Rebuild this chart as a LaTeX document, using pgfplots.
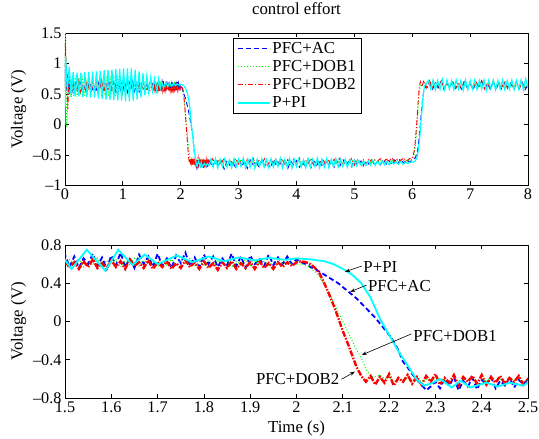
\documentclass[border=0pt]{standalone}
\usepackage{fontspec}
\setmainfont{Liberation Serif}
\usepackage{pgfplots}
\usepackage{pgfplotstable}
\pgfplotsset{compat=1.18}
\usetikzlibrary{arrows.meta}

\definecolor{mblue}{rgb}{0,0,1}
\definecolor{mgreen}{rgb}{0,1,0}
\definecolor{mred}{rgb}{1,0,0}
\definecolor{mcyan}{rgb}{0,1,1}
\newcommand\fsz{\fontsize{16.8bp}{19bp}\selectfont}
\newcommand\fszt{\fontsize{16.2bp}{19bp}\selectfont}

\pgfplotsset{
  mstyle/.style={
    scale only axis, width=463bp,
    axis line style={line width=0.9bp},
    tick align=inside, xtick pos=both, ytick pos=both,
    major tick length=4.5bp,
    tick style={black, line width=0.8bp},
    ticklabel style={font=\fszt},
    label style={font=\fsz},
    ylabel={Voltage (V)},
    ylabel style={at={(axis description cs:-0.1,0.5)}, anchor=center},
  },
  legend image code/.code={\draw[#1] (0bp,0bp) -- (32bp,0bp);},
}

% PFC+AC
\pgfplotstableread[row sep=\\]{
x y\\
0.00 0.70\\ 0.01 1.05\\ 0.03 0.55\\ 0.05 0.85\\ 0.07 0.50\\
0.09 0.70\\ 0.12 0.53\\ 0.15 0.67\\ 0.18 0.56\\ 0.21 0.72\\ 0.24 0.58\\ 0.27 0.69\\ 0.30 0.52\\ 0.33 0.65\\ 0.36 0.55\\
0.39 0.71\\ 0.42 0.57\\ 0.45 0.68\\ 0.48 0.54\\ 0.51 0.66\\ 0.54 0.53\\ 0.57 0.70\\ 0.60 0.59\\ 0.63 0.72\\ 0.66 0.56\\
0.69 0.67\\ 0.72 0.54\\ 0.75 0.69\\ 0.78 0.58\\ 0.81 0.71\\ 0.84 0.55\\ 0.87 0.65\\ 0.90 0.52\\ 0.93 0.68\\ 0.96 0.57\\
0.99 0.70\\ 1.02 0.56\\ 1.05 0.66\\ 1.08 0.53\\ 1.11 0.69\\ 1.14 0.59\\ 1.17 0.71\\ 1.20 0.55\\ 1.23 0.67\\ 1.26 0.54\\
1.29 0.68\\ 1.32 0.58\\ 1.35 0.70\\ 1.38 0.56\\ 1.41 0.65\\ 1.44 0.57\\ 1.47 0.69\\
1.50 0.70\\ 1.51 0.57\\ 1.52 0.68\\ 1.53 0.56\\ 1.54 0.66\\ 1.55 0.60\\ 1.56 0.71\\ 1.57 0.58\\ 1.58 0.67\\ 1.59 0.55\\
1.60 0.69\\ 1.61 0.59\\ 1.62 0.72\\ 1.63 0.57\\ 1.64 0.66\\ 1.65 0.56\\ 1.66 0.70\\ 1.67 0.60\\ 1.68 0.68\\ 1.69 0.57\\
1.70 0.71\\ 1.71 0.58\\ 1.72 0.66\\ 1.73 0.56\\ 1.74 0.69\\ 1.75 0.61\\ 1.76 0.72\\ 1.77 0.58\\ 1.78 0.67\\ 1.79 0.57\\
1.80 0.70\\ 1.81 0.60\\ 1.82 0.68\\ 1.83 0.57\\ 1.84 0.66\\ 1.85 0.59\\ 1.86 0.71\\ 1.87 0.58\\ 1.88 0.68\\ 1.89 0.56\\
1.90 0.69\\ 1.91 0.60\\ 1.92 0.66\\ 1.93 0.58\\ 1.94 0.70\\ 1.95 0.59\\ 1.96 0.67\\ 1.97 0.60\\ 1.98 0.68\\ 1.99 0.60\\
2.00 0.65\\ 2.01 0.62\\ 2.02 0.60\\ 2.03 0.57\\ 2.04 0.55\\ 2.05 0.52\\ 2.06 0.49\\ 2.07 0.46\\ 2.08 0.43\\ 2.09 0.40\\
2.10 0.36\\ 2.11 0.32\\ 2.12 0.28\\ 2.13 0.24\\ 2.14 0.19\\ 2.15 0.14\\ 2.16 0.09\\ 2.17 0.04\\ 2.18 -0.02\\ 2.19 -0.08\\
2.20 -0.14\\ 2.21 -0.21\\ 2.22 -0.30\\ 2.23 -0.42\\ 2.24 -0.48\\ 2.25 -0.55\\ 2.26 -0.61\\ 2.27 -0.66\\ 2.28 -0.72\\ 2.29 -0.68\\
2.30 -0.63\\ 2.31 -0.70\\ 2.32 -0.60\\ 2.33 -0.67\\ 2.34 -0.58\\ 2.35 -0.72\\ 2.36 -0.62\\ 2.37 -0.68\\ 2.38 -0.59\\ 2.39 -0.71\\
2.40 -0.61\\ 2.41 -0.66\\ 2.42 -0.58\\ 2.43 -0.70\\ 2.44 -0.62\\ 2.45 -0.67\\ 2.46 -0.59\\ 2.47 -0.69\\ 2.48 -0.61\\ 2.49 -0.66\\ 2.50 -0.60\\
2.55 -0.70\\ 2.60 -0.58\\ 2.65 -0.68\\ 2.70 -0.60\\ 2.75 -0.73\\ 2.80 -0.59\\ 2.85 -0.67\\ 2.90 -0.62\\ 2.95 -0.71\\ 3.00 -0.57\\
3.05 -0.69\\ 3.10 -0.61\\ 3.15 -0.72\\ 3.20 -0.58\\ 3.25 -0.66\\ 3.30 -0.60\\ 3.35 -0.70\\ 3.40 -0.59\\ 3.45 -0.68\\ 3.50 -0.62\\
3.55 -0.71\\ 3.60 -0.57\\ 3.65 -0.67\\ 3.70 -0.61\\ 3.75 -0.69\\ 3.80 -0.58\\ 3.85 -0.72\\ 3.90 -0.60\\ 3.95 -0.66\\ 4.00 -0.59\\
4.05 -0.70\\ 4.10 -0.62\\ 4.15 -0.68\\ 4.20 -0.57\\ 4.25 -0.71\\ 4.30 -0.60\\ 4.35 -0.67\\ 4.40 -0.58\\ 4.45 -0.69\\ 4.50 -0.61\\
4.55 -0.66\\ 4.60 -0.59\\ 4.65 -0.70\\ 4.70 -0.60\\ 4.75 -0.68\\ 4.80 -0.57\\ 4.85 -0.67\\ 4.90 -0.61\\ 4.95 -0.69\\ 5.00 -0.58\\
5.05 -0.66\\ 5.10 -0.60\\ 5.15 -0.68\\ 5.20 -0.59\\ 5.25 -0.65\\ 5.30 -0.58\\ 5.35 -0.67\\ 5.40 -0.60\\ 5.45 -0.66\\ 5.50 -0.57\\
5.55 -0.65\\ 5.60 -0.59\\ 5.65 -0.66\\ 5.70 -0.58\\ 5.75 -0.64\\ 5.80 -0.57\\ 5.85 -0.63\\ 5.90 -0.58\\ 5.95 -0.62\\
6.00 -0.58\\ 6.05 -0.55\\ 6.08 -0.48\\ 6.10 -0.38\\ 6.12 -0.20\\ 6.14 0.00\\ 6.16 0.22\\ 6.18 0.42\\ 6.20 0.56\\ 6.22 0.62\\ 6.25 0.60\\
6.30 0.68\\ 6.35 0.58\\ 6.40 0.66\\ 6.45 0.60\\ 6.50 0.70\\ 6.55 0.57\\ 6.60 0.67\\ 6.65 0.61\\ 6.70 0.69\\ 6.75 0.59\\
6.80 0.66\\ 6.85 0.58\\ 6.90 0.70\\ 6.95 0.60\\ 7.00 0.67\\ 7.05 0.57\\ 7.10 0.68\\ 7.15 0.62\\ 7.20 0.71\\ 7.25 0.59\\
7.30 0.66\\ 7.35 0.58\\ 7.40 0.69\\ 7.45 0.60\\ 7.50 0.67\\ 7.55 0.57\\ 7.60 0.70\\ 7.65 0.61\\ 7.70 0.68\\ 7.75 0.58\\
7.80 0.66\\ 7.85 0.60\\ 7.90 0.69\\ 7.95 0.57\\ 8.00 0.65\\
}\bluedata

% PFC+DOB1
\pgfplotstableread[row sep=\\]{
x y\\
0.000 0.50\\ 0.008 1.50\\ 0.020 0.60\\ 0.030 -0.05\\ 0.050 0.40\\ 0.070 0.85\\ 0.090 0.45\\
0.12 0.78\\ 0.15 0.47\\ 0.18 0.80\\ 0.21 0.45\\ 0.24 0.77\\ 0.27 0.48\\ 0.30 0.79\\ 0.33 0.46\\ 0.36 0.76\\ 0.39 0.49\\
0.42 0.78\\ 0.45 0.47\\ 0.48 0.80\\ 0.51 0.46\\ 0.54 0.77\\ 0.57 0.48\\ 0.60 0.79\\ 0.63 0.45\\ 0.66 0.78\\ 0.69 0.47\\
0.72 0.80\\ 0.75 0.46\\ 0.78 0.79\\ 0.81 0.48\\ 0.84 0.81\\ 0.87 0.45\\ 0.90 0.80\\ 0.93 0.47\\ 0.96 0.78\\ 0.99 0.46\\
1.02 0.79\\ 1.05 0.48\\ 1.08 0.77\\ 1.11 0.47\\ 1.14 0.76\\ 1.17 0.50\\ 1.20 0.75\\ 1.23 0.52\\ 1.26 0.72\\ 1.29 0.54\\
1.32 0.70\\ 1.35 0.56\\ 1.38 0.68\\ 1.41 0.57\\ 1.44 0.67\\ 1.47 0.58\\
1.50 0.58\\ 1.51 0.65\\ 1.52 0.60\\ 1.53 0.66\\ 1.54 0.57\\ 1.55 0.63\\ 1.56 0.59\\ 1.57 0.66\\ 1.58 0.58\\ 1.59 0.64\\
1.60 0.60\\ 1.61 0.65\\ 1.62 0.57\\ 1.63 0.63\\ 1.64 0.59\\ 1.65 0.66\\ 1.66 0.58\\ 1.67 0.64\\ 1.68 0.60\\ 1.69 0.65\\
1.70 0.57\\ 1.71 0.63\\ 1.72 0.59\\ 1.73 0.65\\ 1.74 0.58\\ 1.75 0.64\\ 1.76 0.60\\ 1.77 0.66\\ 1.78 0.57\\ 1.79 0.63\\
1.80 0.59\\ 1.81 0.65\\ 1.82 0.58\\ 1.83 0.64\\ 1.84 0.60\\ 1.85 0.65\\ 1.86 0.57\\ 1.87 0.63\\ 1.88 0.59\\ 1.89 0.66\\
1.90 0.58\\ 1.91 0.64\\ 1.92 0.60\\ 1.93 0.63\\ 1.94 0.59\\ 1.95 0.62\\ 1.96 0.60\\ 1.97 0.61\\ 1.98 0.60\\ 1.99 0.61\\
2.00 0.60\\ 2.01 0.60\\ 2.02 0.59\\ 2.03 0.56\\ 2.04 0.52\\ 2.05 0.46\\ 2.06 0.39\\ 2.07 0.30\\ 2.08 0.20\\ 2.09 0.10\\
2.10 0.00\\ 2.11 -0.10\\ 2.12 -0.20\\ 2.13 -0.30\\ 2.14 -0.38\\ 2.15 -0.50\\ 2.16 -0.57\\ 2.17 -0.58\\ 2.18 -0.56\\ 2.19 -0.60\\
2.20 -0.58\\ 2.21 -0.63\\ 2.22 -0.60\\ 2.23 -0.64\\ 2.24 -0.59\\ 2.25 -0.62\\ 2.26 -0.58\\ 2.27 -0.64\\ 2.28 -0.60\\ 2.29 -0.63\\
2.30 -0.59\\ 2.31 -0.62\\ 2.32 -0.61\\ 2.33 -0.64\\ 2.34 -0.58\\ 2.35 -0.63\\ 2.36 -0.60\\ 2.37 -0.62\\ 2.38 -0.59\\ 2.39 -0.64\\
2.40 -0.60\\ 2.41 -0.63\\ 2.42 -0.58\\ 2.43 -0.62\\ 2.44 -0.60\\ 2.45 -0.64\\ 2.46 -0.59\\ 2.47 -0.62\\ 2.48 -0.61\\ 2.49 -0.63\\ 2.50 -0.60\\
2.55 -0.58\\ 2.60 -0.66\\ 2.65 -0.60\\ 2.70 -0.64\\ 2.75 -0.57\\ 2.80 -0.65\\ 2.85 -0.61\\ 2.90 -0.67\\ 2.95 -0.59\\ 3.00 -0.63\\
3.05 -0.57\\ 3.10 -0.66\\ 3.15 -0.60\\ 3.20 -0.64\\ 3.25 -0.58\\ 3.30 -0.67\\ 3.35 -0.61\\ 3.40 -0.63\\ 3.45 -0.57\\ 3.50 -0.65\\
3.55 -0.59\\ 3.60 -0.66\\ 3.65 -0.58\\ 3.70 -0.64\\ 3.75 -0.60\\ 3.80 -0.67\\ 3.85 -0.57\\ 3.90 -0.63\\ 3.95 -0.59\\ 4.00 -0.65\\
4.05 -0.58\\ 4.10 -0.66\\ 4.15 -0.61\\ 4.20 -0.64\\ 4.25 -0.57\\ 4.30 -0.65\\ 4.35 -0.60\\ 4.40 -0.67\\ 4.45 -0.58\\ 4.50 -0.63\\
4.55 -0.57\\ 4.60 -0.66\\ 4.65 -0.60\\ 4.70 -0.64\\ 4.75 -0.58\\ 4.80 -0.65\\ 4.85 -0.61\\ 4.90 -0.63\\ 4.95 -0.57\\ 5.00 -0.64\\
5.05 -0.59\\ 5.10 -0.65\\ 5.15 -0.58\\ 5.20 -0.63\\ 5.25 -0.60\\ 5.30 -0.64\\ 5.35 -0.58\\ 5.40 -0.63\\ 5.45 -0.59\\ 5.50 -0.62\\
5.55 -0.58\\ 5.60 -0.63\\ 5.65 -0.59\\ 5.70 -0.62\\ 5.75 -0.58\\ 5.80 -0.63\\ 5.85 -0.59\\ 5.90 -0.62\\ 5.95 -0.58\\
6.00 -0.57\\ 6.03 -0.50\\ 6.06 -0.30\\ 6.08 -0.05\\ 6.10 0.25\\ 6.12 0.50\\ 6.14 0.63\\ 6.17 0.66\\ 6.20 0.62\\ 6.25 0.67\\
6.30 0.70\\ 6.35 0.59\\ 6.40 0.68\\ 6.45 0.61\\ 6.50 0.72\\ 6.55 0.58\\ 6.60 0.69\\ 6.65 0.62\\ 6.70 0.71\\ 6.75 0.60\\
6.80 0.67\\ 6.85 0.59\\ 6.90 0.70\\ 6.95 0.61\\ 7.00 0.68\\ 7.05 0.58\\ 7.10 0.69\\ 7.15 0.62\\ 7.20 0.70\\ 7.25 0.59\\
7.30 0.68\\ 7.35 0.60\\ 7.40 0.71\\ 7.45 0.58\\ 7.50 0.69\\ 7.55 0.61\\ 7.60 0.70\\ 7.65 0.59\\ 7.70 0.68\\ 7.75 0.60\\
7.80 0.69\\ 7.85 0.58\\ 7.90 0.70\\ 7.95 0.61\\ 8.00 0.66\\
}\greendata

% PFC+DOB2
\pgfplotstableread[row sep=\\]{
x y\\
0.000 0.60\\ 0.005 1.35\\ 0.020 1.00\\ 0.040 0.45\\ 0.050 0.25\\ 0.070 0.85\\ 0.090 0.55\\
0.12 0.70\\ 0.15 0.55\\ 0.18 0.68\\ 0.21 0.57\\ 0.24 0.72\\ 0.27 0.54\\ 0.30 0.66\\ 0.33 0.59\\ 0.36 0.71\\ 0.39 0.56\\
0.42 0.69\\ 0.45 0.53\\ 0.48 0.67\\ 0.51 0.58\\ 0.54 0.72\\ 0.57 0.55\\ 0.60 0.68\\ 0.63 0.57\\ 0.66 0.70\\ 0.69 0.54\\
0.72 0.66\\ 0.75 0.59\\ 0.78 0.71\\ 0.81 0.56\\ 0.84 0.69\\ 0.87 0.55\\ 0.90 0.67\\ 0.93 0.58\\ 0.96 0.70\\ 0.99 0.54\\
1.02 0.68\\ 1.05 0.57\\ 1.08 0.71\\ 1.11 0.55\\ 1.14 0.66\\ 1.17 0.59\\ 1.20 0.69\\ 1.23 0.56\\ 1.26 0.67\\ 1.29 0.54\\
1.32 0.65\\ 1.35 0.57\\ 1.38 0.63\\ 1.41 0.55\\ 1.44 0.62\\ 1.47 0.56\\
1.50 0.64\\ 1.51 0.56\\ 1.52 0.62\\ 1.53 0.55\\ 1.54 0.63\\ 1.55 0.57\\ 1.56 0.65\\ 1.57 0.56\\ 1.58 0.61\\ 1.59 0.55\\
1.60 0.64\\ 1.61 0.57\\ 1.62 0.63\\ 1.63 0.55\\ 1.64 0.65\\ 1.65 0.58\\ 1.66 0.62\\ 1.67 0.56\\ 1.68 0.64\\ 1.69 0.55\\
1.70 0.62\\ 1.71 0.57\\ 1.72 0.63\\ 1.73 0.55\\ 1.74 0.61\\ 1.75 0.56\\ 1.76 0.64\\ 1.77 0.57\\ 1.78 0.62\\ 1.79 0.55\\
1.80 0.63\\ 1.81 0.56\\ 1.82 0.61\\ 1.83 0.54\\ 1.84 0.62\\ 1.85 0.56\\ 1.86 0.63\\ 1.87 0.55\\ 1.88 0.61\\ 1.89 0.56\\
1.90 0.62\\ 1.91 0.55\\ 1.92 0.63\\ 1.93 0.56\\ 1.94 0.61\\ 1.95 0.55\\ 1.96 0.62\\ 1.97 0.57\\ 1.98 0.62\\ 1.99 0.58\\
2.00 0.62\\ 2.01 0.63\\ 2.02 0.62\\ 2.03 0.60\\ 2.04 0.56\\ 2.05 0.50\\ 2.06 0.40\\ 2.07 0.29\\ 2.08 0.17\\ 2.09 0.04\\
2.10 -0.10\\ 2.11 -0.22\\ 2.12 -0.35\\ 2.13 -0.48\\ 2.14 -0.57\\ 2.15 -0.63\\
2.16 -0.57\\ 2.17 -0.66\\ 2.18 -0.58\\ 2.19 -0.64\\ 2.20 -0.55\\ 2.21 -0.67\\ 2.22 -0.59\\ 2.23 -0.63\\ 2.24 -0.56\\ 2.25 -0.65\\
2.26 -0.58\\ 2.27 -0.66\\ 2.28 -0.57\\ 2.29 -0.63\\ 2.30 -0.55\\ 2.31 -0.66\\ 2.32 -0.59\\ 2.33 -0.64\\ 2.34 -0.56\\ 2.35 -0.67\\
2.36 -0.58\\ 2.37 -0.63\\ 2.38 -0.57\\ 2.39 -0.65\\ 2.40 -0.56\\ 2.41 -0.66\\ 2.42 -0.58\\ 2.43 -0.64\\ 2.44 -0.57\\ 2.45 -0.65\\
2.46 -0.59\\ 2.47 -0.63\\ 2.48 -0.57\\ 2.49 -0.66\\ 2.50 -0.60\\
2.55 -0.56\\ 2.60 -0.66\\ 2.65 -0.58\\ 2.70 -0.64\\ 2.75 -0.55\\ 2.80 -0.67\\ 2.85 -0.59\\ 2.90 -0.63\\ 2.95 -0.56\\ 3.00 -0.65\\
3.05 -0.58\\ 3.10 -0.66\\ 3.15 -0.57\\ 3.20 -0.63\\ 3.25 -0.55\\ 3.30 -0.66\\ 3.35 -0.59\\ 3.40 -0.64\\ 3.45 -0.56\\ 3.50 -0.67\\
3.55 -0.58\\ 3.60 -0.63\\ 3.65 -0.57\\ 3.70 -0.65\\ 3.75 -0.56\\ 3.80 -0.66\\ 3.85 -0.58\\ 3.90 -0.64\\ 3.95 -0.57\\ 4.00 -0.65\\
4.05 -0.55\\ 4.10 -0.66\\ 4.15 -0.58\\ 4.20 -0.64\\ 4.25 -0.56\\ 4.30 -0.67\\ 4.35 -0.59\\ 4.40 -0.63\\ 4.45 -0.56\\ 4.50 -0.65\\
4.55 -0.58\\ 4.60 -0.66\\ 4.65 -0.57\\ 4.70 -0.63\\ 4.75 -0.55\\ 4.80 -0.66\\ 4.85 -0.59\\ 4.90 -0.64\\ 4.95 -0.56\\ 5.00 -0.67\\
5.05 -0.58\\ 5.10 -0.63\\ 5.15 -0.57\\ 5.20 -0.65\\ 5.25 -0.56\\ 5.30 -0.62\\ 5.35 -0.58\\ 5.40 -0.60\\ 5.45 -0.56\\ 5.50 -0.61\\
5.55 -0.57\\ 5.60 -0.60\\ 5.65 -0.55\\ 5.70 -0.61\\ 5.75 -0.56\\ 5.80 -0.59\\ 5.85 -0.55\\ 5.90 -0.60\\ 5.95 -0.56\\
6.00 -0.55\\ 6.02 -0.50\\ 6.04 -0.40\\ 6.06 -0.20\\ 6.08 0.05\\ 6.10 0.35\\ 6.12 0.60\\ 6.14 0.70\\ 6.17 0.62\\ 6.20 0.72\\ 6.25 0.60\\
6.30 0.72\\ 6.35 0.59\\ 6.40 0.70\\ 6.45 0.62\\ 6.50 0.73\\ 6.55 0.58\\ 6.60 0.68\\ 6.65 0.63\\ 6.70 0.71\\ 6.75 0.60\\
6.80 0.69\\ 6.85 0.58\\ 6.90 0.72\\ 6.95 0.61\\ 7.00 0.67\\ 7.05 0.59\\ 7.10 0.70\\ 7.15 0.62\\ 7.20 0.72\\ 7.25 0.58\\
7.30 0.68\\ 7.35 0.60\\ 7.40 0.71\\ 7.45 0.59\\ 7.50 0.69\\ 7.55 0.62\\ 7.60 0.70\\ 7.65 0.58\\ 7.70 0.67\\ 7.75 0.60\\
7.80 0.71\\ 7.85 0.59\\ 7.90 0.68\\ 7.95 0.60\\ 8.00 0.66\\
}\reddata

% P+PI
\pgfplotstableread[row sep=\\]{
x y\\
0.000 0.00\\ 0.010 1.12\\ 0.040 0.55\\ 0.074 0.95\\ 0.107 0.45\\ 0.141 0.86\\ 0.174 0.46\\ 0.208 0.85\\ 0.241 0.46\\ 0.275 0.85\\
0.308 0.45\\ 0.342 0.86\\ 0.375 0.45\\ 0.409 0.86\\ 0.442 0.44\\ 0.476 0.87\\ 0.509 0.44\\ 0.543 0.87\\ 0.576 0.43\\ 0.610 0.88\\
0.643 0.42\\ 0.677 0.89\\ 0.710 0.41\\ 0.744 0.90\\ 0.777 0.40\\ 0.811 0.90\\ 0.844 0.40\\ 0.878 0.91\\ 0.911 0.39\\ 0.945 0.91\\
0.978 0.39\\ 1.012 0.92\\ 1.045 0.38\\ 1.079 0.92\\ 1.112 0.38\\ 1.146 0.92\\ 1.179 0.39\\ 1.213 0.90\\ 1.246 0.41\\ 1.280 0.87\\
1.313 0.44\\ 1.347 0.84\\ 1.380 0.48\\ 1.414 0.80\\ 1.447 0.52\\ 1.481 0.77\\ 1.514 0.55\\ 1.547 0.75\\ 1.587 0.53\\ 1.615 0.75\\
1.646 0.59\\ 1.672 0.70\\ 1.700 0.60\\ 1.742 0.69\\ 1.775 0.62\\ 1.810 0.68\\ 1.845 0.63\\ 1.875 0.67\\ 1.910 0.64\\ 1.940 0.665\\
1.975 0.645\\ 2.000 0.66\\ 2.030 0.65\\ 2.060 0.63\\ 2.080 0.60\\ 2.100 0.55\\ 2.120 0.49\\ 2.140 0.40\\ 2.160 0.25\\ 2.180 0.03\\
2.200 -0.14\\ 2.220 -0.31\\ 2.240 -0.46\\ 2.260 -0.61\\ 2.275 -0.67\\ 2.290 -0.65\\ 2.310 -0.60\\ 2.335 -0.69\\ 2.355 -0.62\\ 2.375 -0.69\\
2.410 -0.64\\ 2.435 -0.68\\ 2.460 -0.64\\ 2.490 -0.67\\
2.52 -0.57\\ 2.56 -0.70\\ 2.60 -0.56\\ 2.64 -0.71\\ 2.68 -0.57\\ 2.72 -0.69\\ 2.76 -0.56\\ 2.80 -0.70\\ 2.84 -0.58\\ 2.88 -0.71\\
2.92 -0.56\\ 2.96 -0.70\\ 3.00 -0.57\\ 3.04 -0.69\\ 3.08 -0.55\\ 3.12 -0.71\\ 3.16 -0.57\\ 3.20 -0.70\\ 3.24 -0.56\\ 3.28 -0.72\\
3.32 -0.57\\ 3.36 -0.69\\ 3.40 -0.56\\ 3.44 -0.70\\ 3.48 -0.58\\ 3.52 -0.71\\ 3.56 -0.56\\ 3.60 -0.70\\ 3.64 -0.57\\ 3.68 -0.69\\
3.72 -0.55\\ 3.76 -0.71\\ 3.80 -0.57\\ 3.84 -0.70\\ 3.88 -0.56\\ 3.92 -0.72\\ 3.96 -0.57\\ 4.00 -0.69\\ 4.04 -0.56\\ 4.08 -0.70\\
4.12 -0.58\\ 4.16 -0.71\\ 4.20 -0.56\\ 4.24 -0.70\\ 4.28 -0.57\\ 4.32 -0.69\\ 4.36 -0.55\\ 4.40 -0.71\\ 4.44 -0.57\\ 4.48 -0.70\\
4.52 -0.56\\ 4.56 -0.71\\ 4.60 -0.57\\ 4.64 -0.69\\ 4.68 -0.56\\ 4.72 -0.70\\ 4.76 -0.58\\ 4.80 -0.69\\ 4.84 -0.57\\ 4.88 -0.70\\
4.92 -0.58\\ 4.96 -0.69\\ 5.00 -0.59\\ 5.04 -0.68\\ 5.08 -0.59\\ 5.12 -0.67\\ 5.16 -0.60\\ 5.20 -0.67\\ 5.24 -0.60\\ 5.28 -0.66\\
5.32 -0.59\\ 5.36 -0.67\\ 5.40 -0.60\\ 5.44 -0.66\\ 5.48 -0.60\\ 5.52 -0.66\\ 5.56 -0.61\\ 5.60 -0.66\\ 5.64 -0.60\\ 5.68 -0.65\\
5.72 -0.61\\ 5.76 -0.65\\ 5.80 -0.61\\ 5.84 -0.65\\ 5.88 -0.62\\ 5.92 -0.64\\ 5.96 -0.62\\
6.00 -0.62\\ 6.05 -0.60\\ 6.08 -0.55\\ 6.10 -0.45\\ 6.12 -0.30\\ 6.14 -0.09\\ 6.16 0.15\\ 6.18 0.38\\ 6.20 0.56\\ 6.22 0.65\\ 6.25 0.68\\
6.28 0.72\\ 6.32 0.58\\ 6.36 0.73\\ 6.40 0.57\\ 6.44 0.72\\ 6.48 0.58\\ 6.52 0.74\\ 6.56 0.57\\ 6.60 0.73\\ 6.64 0.58\\
6.68 0.72\\ 6.72 0.57\\ 6.76 0.73\\ 6.80 0.58\\ 6.84 0.72\\ 6.88 0.56\\ 6.92 0.73\\ 6.96 0.57\\ 7.00 0.72\\ 7.04 0.58\\
7.08 0.73\\ 7.12 0.57\\ 7.16 0.72\\ 7.20 0.58\\ 7.24 0.73\\ 7.28 0.56\\ 7.32 0.72\\ 7.36 0.58\\ 7.40 0.73\\ 7.44 0.57\\
7.48 0.72\\ 7.52 0.58\\ 7.56 0.73\\ 7.60 0.57\\ 7.64 0.72\\ 7.68 0.58\\ 7.72 0.73\\ 7.76 0.57\\ 7.80 0.72\\ 7.84 0.58\\
7.88 0.73\\ 7.92 0.57\\ 7.96 0.75\\ 8.00 0.60\\
}\cyandata

\begin{document}
\begin{tikzpicture}
\path[use as bounding box] (-65bp,-41bp) rectangle (474bp,398bp);

% full run
\begin{axis}[mstyle, at={(0bp,212.5bp)}, anchor=south west, height=152.5bp,
  xmin=0, xmax=8, ymin=-1, ymax=1.5,
  xtick={0,1,2,3,4,5,6,7,8}, xticklabels={0,1,2,3,4,5,6,7,8},
  ytick={-1,-0.5,0,0.5,1,1.5}, yticklabels={--1,--0.5,0,0.5,1,1.5},
  title={control effort},
  title style={font=\fsz, at={(axis description cs:0.5,1)}, anchor=base, yshift=13bp},
  legend style={at={(axis description cs:0.3625,0.967)}, anchor=north west,
    draw=black, line width=0.8bp, font=\fsz, inner ysep=2bp, inner xsep=4bp, row sep=1.5bp,
    cells={anchor=west}, /tikz/every even column/.append style={column sep=2.5bp}},
]
\addplot[mblue, line width=0.9bp, dash pattern=on 5bp off 3bp] table[x=x,y=y]{\bluedata};
\addlegendentry{PFC+AC}
\addplot[mgreen, line width=0.9bp, dash pattern=on 1bp off 2bp] table[x=x,y=y]{\greendata};
\addlegendentry{PFC+DOB1}
\addplot[mred, line width=0.9bp, dash pattern=on 5bp off 2bp on 1bp off 2bp] table[x=x,y=y]{\reddata};
\addlegendentry{PFC+DOB2}
\addplot[mcyan, line width=1.2bp] table[x=x,y=y]{\cyandata};
\addlegendentry{P+PI}
\end{axis}

% zoom around the step down
\begin{axis}[mstyle, at={(0bp,0bp)}, anchor=south west, height=153bp,
  xmin=1.5, xmax=2.5, ymin=-0.8, ymax=0.8,
  xtick={1.5,1.6,1.7,1.8,1.9,2,2.1,2.2,2.3,2.4,2.5},
  xticklabels={1.5,1.6,1.7,1.8,1.9,2,2.1,2.2,2.3,2.4,2.5},
  ytick={-0.8,-0.4,0,0.4,0.8}, yticklabels={--0.8,--0.4,0,0.4,0.8},
  xlabel={Time (s)},
  xlabel style={at={(axis description cs:0.5,-0.196)}, anchor=center},
]
\addplot[mblue, line width=1.8bp, dash pattern=on 5bp off 3bp] table[x=x,y=y]{\bluedata};
\addplot[mgreen, line width=1bp, dash pattern=on 1bp off 2bp] table[x=x,y=y]{\greendata};
\addplot[mred, line width=2.4bp, dash pattern=on 6bp off 1.5bp on 1.5bp off 1.5bp] table[x=x,y=y]{\reddata};
\addplot[mcyan, line width=1.8bp] table[x=x,y=y]{\cyandata};

\draw[-{Stealth[length=5bp,width=3.5bp]}, line width=0.6bp] (axis cs:2.141,0.58) -- (axis cs:2.105,0.52);
\node[anchor=west, font=\fsz, inner sep=1bp] at (axis cs:2.142,0.565) {P+PI};
\draw[-{Stealth[length=5bp,width=3.5bp]}, line width=0.6bp] (axis cs:2.151,0.38) -- (axis cs:2.116,0.31);
\node[anchor=west, font=\fsz, inner sep=1bp] at (axis cs:2.152,0.373) {PFC+AC};
\draw[-{Stealth[length=5bp,width=3.5bp]}, line width=0.6bp] (axis cs:2.248,-0.13) -- (axis cs:2.141,-0.35);
\node[anchor=west, font=\fsz, inner sep=1bp] at (axis cs:2.250,-0.15) {PFC+DOB1};
\draw[-{Stealth[length=5bp,width=3.5bp]}, line width=0.6bp] (axis cs:2.097,-0.605) -- (axis cs:2.126,-0.525);
\node[anchor=east, font=\fsz, inner sep=1bp] at (axis cs:2.095,-0.60) {PFC+DOB2};
\end{axis}
\end{tikzpicture}
\end{document}
